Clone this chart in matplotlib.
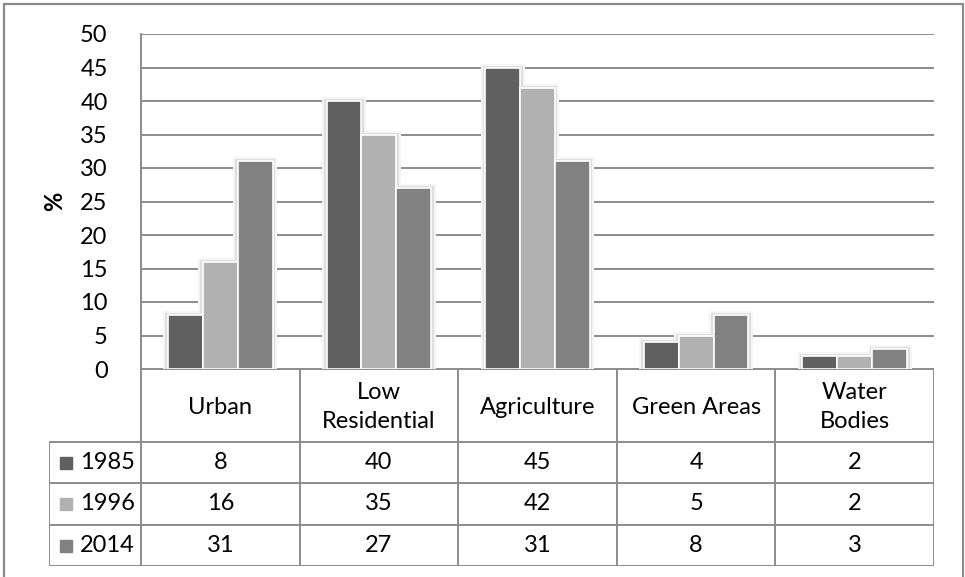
import matplotlib.pyplot as plt
from matplotlib.patches import Rectangle
import numpy as np

plt.rcParams['font.family'] = ['Lato', 'DejaVu Sans']

categories = ['Urban', 'Low\nResidential', 'Agriculture', 'Green Areas', 'Water\nBodies']
years = ['1985', '1996', '2014']
v1985 = [8, 40, 45, 4, 2]
v1996 = [16, 35, 42, 5, 2]
v2014 = [31, 27, 31, 8, 3]
series = [v1985, v1996, v2014]
colors = ['#606060', '#b1b1b1', '#818181']
yticks = [0, 5, 10, 15, 20, 25, 30, 35, 40, 45, 50]

W, H = 965, 577
fig = plt.figure(figsize=(W / 100, H / 100), dpi=100)

line_c = '#8c8c8c'
fs = 17

# pixel -> figure fraction helpers
def fx(px):
    return px / W

def fy(py):
    return 1 - py / H

ax = fig.add_axes([fx(141), fy(369), fx(934) - fx(141), fy(34) - fy(369)])
x = np.arange(len(categories))
w = 0.22
px_x = 1 / 158.6        # one pixel in category units
px_y = 50 / 335         # one pixel in value units

for i, vals in enumerate(series):
    xs = x + (i - 1) * w
    # soft glow behind the bars
    ax.bar(xs, np.array(vals) + 4 * px_y, width=w + 9 * px_x, color='#f5f5f5', zorder=2)
    ax.bar(xs, np.array(vals) + 2 * px_y, width=w + 5 * px_x, color='#dedede', zorder=3)
    ax.bar(xs, vals, width=w, color=colors[i], edgecolor='white', linewidth=1.2, zorder=4)

ax.set_xlim(-0.5, len(categories) - 0.5)
ax.set_ylim(0, 50)
ax.set_yticks(yticks)
ax.set_xticks([])
ax.yaxis.grid(True, color=line_c, linewidth=1.4, zorder=0)
ax.set_axisbelow(True)
ax.tick_params(axis='y', length=0, labelsize=fs, pad=24)
for s in ['top', 'right', 'bottom']:
    ax.spines[s].set_visible(False)
ax.spines['left'].set_color(line_c)
ax.spines['left'].set_linewidth(1.4)
ax.set_ylabel('%', fontsize=fs, fontweight='bold', labelpad=10)

# data table under the chart
tx = fig.add_axes([fx(49), fy(566), fx(934) - fx(49), fy(369) - fy(566)])
left = -0.5 - 92 / 158.6
right = len(categories) - 0.5
tx.set_xlim(left, right)
tx.set_ylim(0, 197)
tx.axis('off')
tl = dict(color=line_c, linewidth=1.4, solid_capstyle='butt')

row_top = [124, 83, 41]   # top edge of each data row
row_h = 41
# horizontal lines
tx.plot([-0.5, right], [197, 197], **tl)
for yl in [124, 83, 41, 0]:
    tx.plot([left, right], [yl, yl], **tl)
# vertical lines
tx.plot([left, left], [0, 124], **tl)
for b in np.arange(len(categories) + 1) - 0.5:
    tx.plot([b, b], [0, 197], **tl)

for j, cat in enumerate(categories):
    tx.text(j, 159, cat, ha='center', va='center', fontsize=fs, linespacing=1.5)
    for i, vals in enumerate(series):
        tx.text(j, row_top[i] - row_h / 2, str(vals[j]),
                ha='center', va='center', fontsize=fs)

for i, yr in enumerate(years):
    yc = row_top[i] - row_h / 2
    tx.add_patch(Rectangle((left + 11 * px_x, yc - 6.5), 12 * px_x, 12,
                           color=colors[i], clip_on=False))
    tx.text(left + 31 * px_x, yc, yr, ha='left', va='center', fontsize=fs)

# outer chart border
fig.add_artist(Rectangle((fx(4), fy(590)), fx(963) - fx(4), fy(4) - fy(590),
                         transform=fig.transFigure, fill=False,
                         edgecolor='#8a8a8a', linewidth=1.6, clip_on=False))

fig.savefig('out.png', dpi=100)
